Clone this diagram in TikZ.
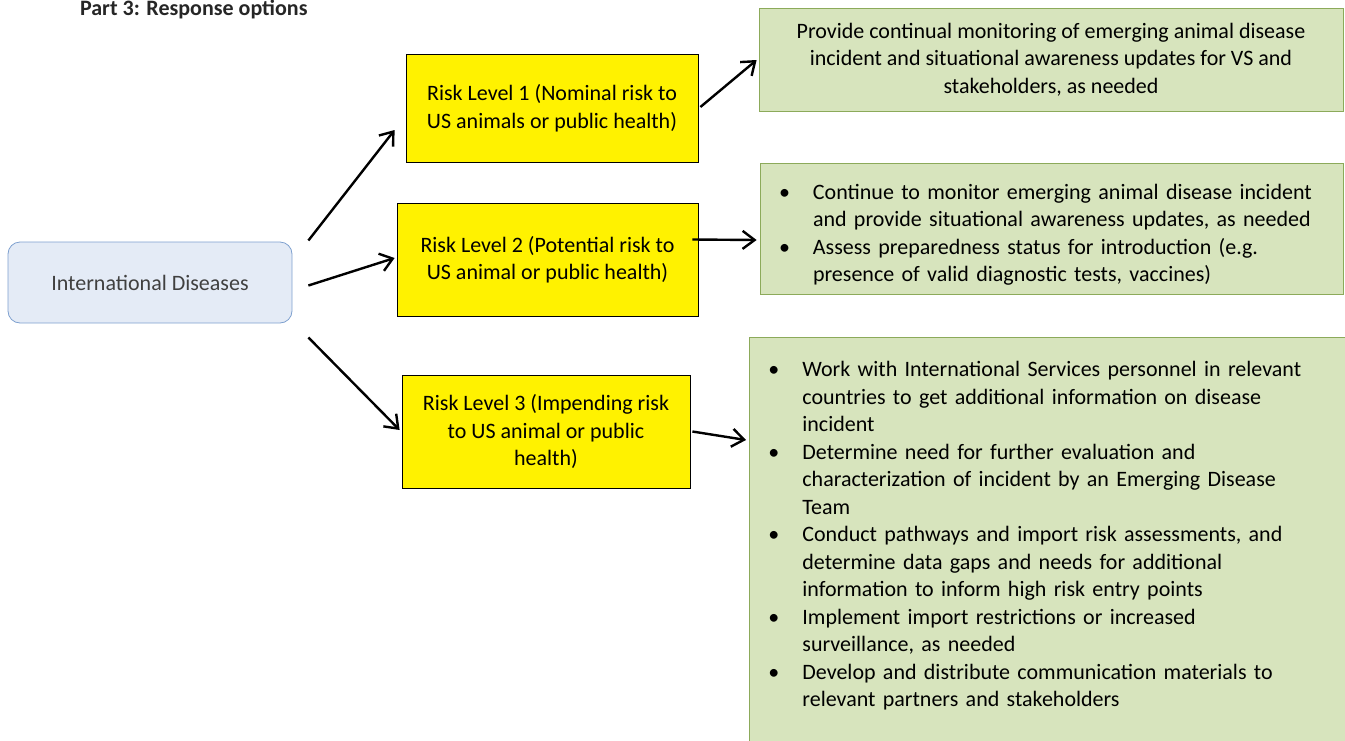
\documentclass[tikz,border=0pt]{standalone}
\usepackage{fontspec}
\setmainfont{Carlito}
\usetikzlibrary{arrows.meta}

\definecolor{intlfill}{RGB}{228,235,246}
\definecolor{intlline}{RGB}{126,160,207}
\definecolor{actfill}{RGB}{215,228,189}
\definecolor{actline}{RGB}{140,170,90}

\newcommand{\bitem}{\par\noindent\hangindent=18pt\hangafter=1\makebox[18pt][l]{\hspace{1pt}\textbullet}}

\begin{document}
\begin{tikzpicture}[x=0.5pt,y=-0.5pt,>={Straight Barb[length=6pt,width=9pt]},
	every node/.style={font=\fontsize{11}{13.75}\selectfont},
	disease/.style={draw=intlline, fill=intlfill, rounded corners=6pt, minimum width=142pt, minimum height=40.5pt, text=black!75},
	risk/.style={draw=black, fill=yellow, align=center, inner sep=0pt},
	action/.style={draw=actline, fill=actfill, inner xsep=8.5pt},
	link/.style={->, line width=1.2pt}]
	
	\useasboundingbox (0,0) rectangle (1345,740);
	
	\node (title) [anchor=west, font=\bfseries\fontsize{11}{13.75}\selectfont, text=black!85] at (73,9) {Part 3: Response options};
	
	\node (intl) [disease] at (150,282.5) {International Diseases};
	
	\node (rl1) [risk, minimum width=146pt, minimum height=54pt] at (552,108) {Risk Level 1 (Nominal risk to\\US animals or public health)};
	\node (rl2) [risk, minimum width=150.5pt, minimum height=56.5pt] at (547.5,259.5) {Risk Level 2 (Potential risk to\\US animal or public health)};
	\node (rl3) [risk, minimum width=144pt, minimum height=56.5pt] at (546,431.5) {Risk Level 3 (Impending risk\\to US animal or public\\health)};
	
	\node (mon) [action, align=center, minimum width=292pt, minimum height=51.5pt] at (1051,59.5) {Provide continual monitoring of emerging animal disease\\incident and situational awareness updates for VS and\\stakeholders, as needed};
	\node (prep) [action, text width=274.5pt, align=left, minimum height=65.5pt] at (1051.5,228.5) {%
		\bitem Continue to monitor emerging animal disease incident\newline and provide situational awareness updates, as needed
		\bitem Assess preparedness status for introduction (e.g.\newline presence of valid diagnostic tests, vaccines)\par};
	\node (resp) [action, text width=283pt, align=left, anchor=north west, inner ysep=6pt] at (749,337) {%
		\bitem Work with International Services personnel in relevant\newline countries to get additional information on disease\newline incident
		\bitem Determine need for further evaluation and\newline characterization of incident by an Emerging Disease\newline Team
		\bitem Conduct pathways and import risk assessments, and\newline determine data gaps and needs for additional\newline information to inform high risk entry points
		\bitem Implement import restrictions or increased\newline surveillance, as needed
		\bitem Develop and distribute communication materials to\newline relevant partners and stakeholders
		\par\noindent\rule{0pt}{22pt}};
	
	\path [link]
	([shift={(16,-42)}]intl.east) edge ([shift={(-11,22)}]rl1.west)
	([shift={(16,3)}]intl.east) edge ([shift={(-2,-1.5)}]rl2.west)
	([shift={(16,55)}]intl.east) edge ([shift={(-2,-1.5)}]rl3.west)
	
	([shift={(2,-1)}]rl1.east) edge ([shift={(-2,0.5)}]mon.west)
	([shift={(-6,-20)}]rl2.east) edge ([shift={(-3,11.5)}]prep.west)
	([shift={(2,0)}]rl3.east) edge ([shift={(-3,103)}]resp.north west);
\end{tikzpicture}
\end{document}
